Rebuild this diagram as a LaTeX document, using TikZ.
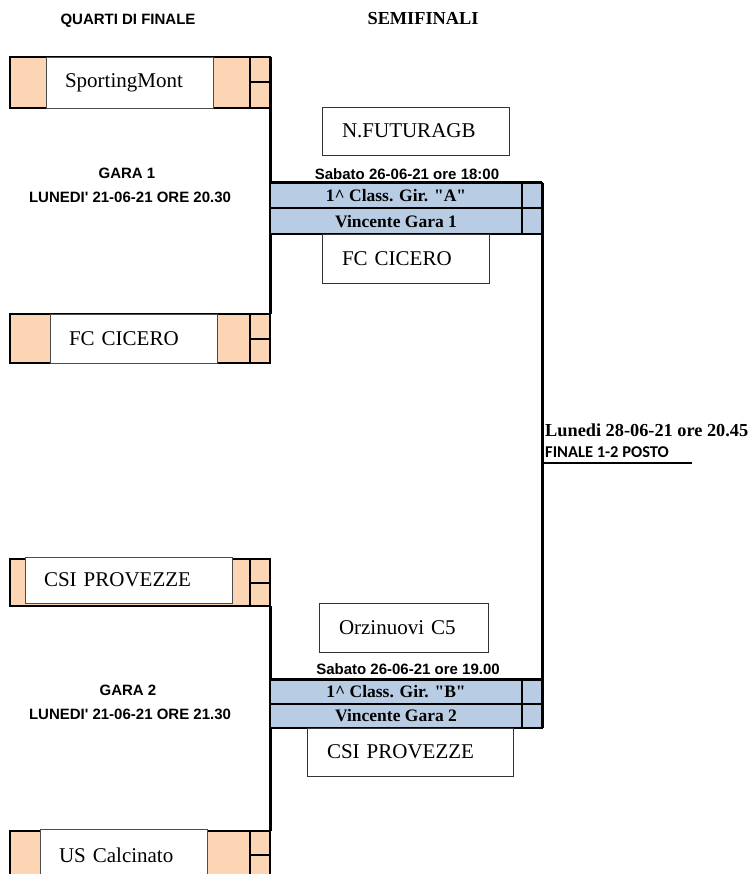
\documentclass[tikz,border=0pt]{standalone}
\usepackage{fontspec}
\setmainfont{Liberation Serif}[Ligatures=TeXOff]
\newfontfamily\arialfont{Liberation Sans}
\newfontfamily\calibrifont{Carlito}
\usetikzlibrary{positioning}
\definecolor{peach}{HTML}{FCD5B4}
\definecolor{lightblue}{HTML}{B8CCE4}
\tikzstyle{frame} = [rectangle, draw=black, line width=2pt, fill=peach, minimum width=240pt, inner sep=0pt, outer sep=0pt]
\tikzstyle{cell} = [rectangle, draw=black, line width=2pt, fill=peach, minimum width=20pt, inner sep=0pt, outer sep=0pt, anchor=north west]
\tikzstyle{team} = [rectangle, draw=black!70, line width=0.8pt, fill=white, inner xsep=19pt, inner ysep=0pt, outer sep=0pt, align=left, font=\fontsize{21}{21}\selectfont]
\tikzstyle{winner} = [rectangle, draw=black!80, line width=0.7pt, fill=white, inner xsep=20pt, inner ysep=0pt, outer sep=0pt, align=left, font=\fontsize{21}{21}\selectfont]
\tikzstyle{slot} = [rectangle, draw=black, line width=2pt, fill=lightblue, minimum width=252pt, inner sep=0pt, outer sep=0pt, anchor=north west, font=\bfseries\fontsize{17.5}{17.5}\selectfont]
\tikzstyle{slotend} = [rectangle, draw=black, line width=2pt, fill=lightblue, minimum width=20pt, inner sep=0pt, outer sep=0pt, anchor=north west]
\tikzstyle{bracket} = [line width=3pt]
\tikzstyle{info} = [font=\arialfont\bfseries\fontsize{15}{15}\selectfont]

\begin{document}
\begin{tikzpicture}[x=1pt, y=-1pt]
\useasboundingbox (0,0) rectangle (752,874);

% headings
\node (quarti) [info] at (128,21) {QUARTI DI FINALE};
\node (semi) [font=\bfseries\fontsize{18.3}{18.3}\selectfont] at (423,19) {SEMIFINALI};

% quarter final 1
\node (q1) [frame, minimum height=51pt] at (130,82.5) {};
\node (q1a) [cell, minimum height=25.5pt] at (q1.north east) {};
\node (q1b) [cell, minimum height=25.5pt] at (q1a.south west) {};
\node (t1) [team, text width=129pt, minimum height=51pt] at (129.5,82.5) {SportingMont};
\node (q2) [frame, minimum height=49pt] at (130,338.5) {};
\node (q2a) [cell, minimum height=24.5pt] at (q2.north east) {};
\node (q2b) [cell, minimum height=24.5pt] at (q2a.south west) {};
\node (t2) [team, text width=129pt, minimum height=49pt] at (133.5,338.5) {FC CICERO};
\node (gara1) [info] at (127,173) {GARA 1};
\node (data1) [info] at (130,197) {LUNEDI' 21-06-21 ORE 20.30};

% quarter final 2
\node (q3) [frame, minimum height=47pt] at (130,582.5) {};
\node (q3a) [cell, minimum height=23.5pt] at (q3.north east) {};
\node (q3b) [cell, minimum height=23.5pt] at (q3a.south west) {};
\node (t3) [team, text width=169pt, minimum height=46pt] at (128.5,580) {CSI PROVEZZE};
\node (q4) [frame, minimum height=50pt] at (130,856) {};
\node (q4a) [cell, minimum height=24pt] at (q4.north east) {};
\node (q4b) [cell, minimum height=24pt] at (q4a.south west) {};
\node (t4) [team, text width=129pt, minimum height=52pt] at (123.5,855) {US Calcinato};
\node (gara2) [info] at (128,690) {GARA 2};
\node (data2) [info] at (130,714) {LUNEDI' 21-06-21 ORE 21.30};

% semifinal 1
\node (sf1a) [slot, minimum height=25.5pt] at (270,183) {1\textasciicircum{} Class. Gir. "A"};
\node (sf1ax) [slotend, minimum height=25.5pt] at (sf1a.north east) {};
\node (sf1b) [slot, minimum height=25.5pt] at (sf1a.south west) {Vincente Gara 1};
\node (sf1bx) [slotend, minimum height=25.5pt] at (sf1b.north east) {};
\node (sab1) [info] at (407,174) {Sabato 26-06-21 ore 18:00};

% semifinal 2
\node (sf2a) [slot, minimum height=24.5pt] at (270,679) {1\textasciicircum{} Class. Gir. "B"};
\node (sf2ax) [slotend, minimum height=24.5pt] at (sf2a.north east) {};
\node (sf2b) [slot, minimum height=24.5pt] at (sf2a.south west) {Vincente Gara 2};
\node (sf2bx) [slotend, minimum height=24.5pt] at (sf2b.north east) {};
\node (sab2) [info] at (408,669) {Sabato 26-06-21 ore 19.00};

% brackets
\draw [bracket] (q1a.north east) -- (sf1a.north west) -- (sf1ax.north east);
\draw [bracket] (sf1b.south west) -- (q2a.north east);
\draw [bracket] (q3b.south east) -- (sf2a.north west) -- (sf2ax.north east);
\draw [bracket] (sf2b.south west) -- (q4a.north east);
\draw [bracket] (sf1ax.north east) -- (sf2bx.south east);

% qualified teams
\node (w1) [winner, text width=147pt, minimum height=48pt] at (415.5,131) {N.FUTURAGB};
\node (w2) [winner, text width=127pt, minimum height=49pt] at (405.5,258.5) {FC CICERO};
\node (w3) [winner, text width=129pt, minimum height=49pt] at (403.5,627.5) {Orzinuovi C5};
\node (w4) [winner, text width=166pt, minimum height=48pt] at (410,752) {CSI PROVEZZE};

% final
\coordinate (fin) at (542,463);
\coordinate (finend) at (692,463);
\node (fdata) [anchor=west, inner xsep=3pt, font=\bfseries\fontsize{18.3}{18.3}\selectfont] at (542,430) {Lunedi 28-06-21 ore 20.45};
\node (ftitolo) [anchor=west, inner xsep=3pt, font=\calibrifont\bfseries\fontsize{16.5}{16.5}\selectfont] at (542,452) {FINALE 1-2 POSTO};
\draw [line width=2pt] (fin) -- (finend);

\end{tikzpicture}
\end{document}
